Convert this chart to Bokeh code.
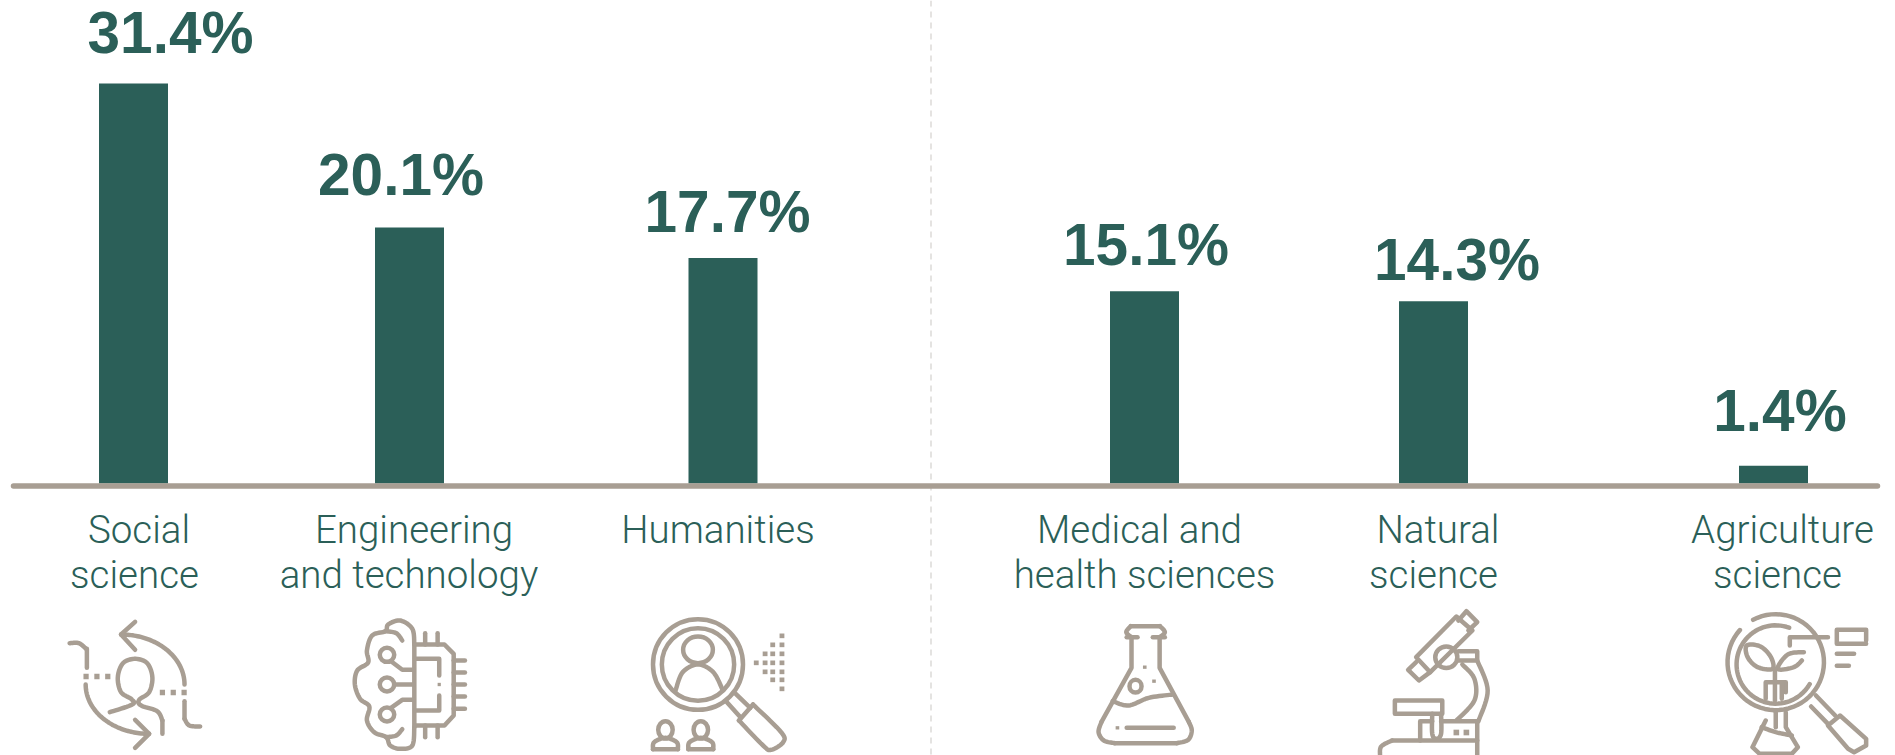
from math import cos, sin, radians
from bokeh.plotting import figure
from bokeh.models import Range1d
from bokeh.core.properties import value
from bokeh.embed import file_html
from bokeh.resources import INLINE

# ---- data ----
categories = ["Social science", "Engineering and technology", "Humanities",
              "Medical and health sciences", "Natural science", "Agriculture science"]
shares = [31.4, 20.1, 17.7, 15.1, 14.3, 1.4]
category_lines = [["Social", "science"], ["Engineering", "and technology"], ["Humanities"],
                  ["Medical and", "health sciences"], ["Natural", "science"], ["Agriculture", "science"]]

# ---- layout (page pixels) ----
bar_centers = [133, 409, 722.5, 1144, 1433, 1773]
value_label_x = [170, 400.5, 727, 1145.5, 1456.5, 1779.5]
value_label_y = [53, 195.5, 232.5, 265.5, 280.5, 431.5]
cat_label_x = [[138.5, 134], [413.5, 408.5], [717.5], [1139, 1144], [1437.5, 1433], [1782, 1777]]
cat_line_y = [542.5, 587.5]
GREEN = "#2B5F58"
TAUPE = "#A89E93"
W, H = 1895, 755
PX = 12.74
BASE = 483
VAL_SIZE = 58.5
CAT_SIZE = 38.5
BASELINE_SHIFT = 0.36

p = figure(width=W, height=H, output_backend="svg", toolbar_location=None,
           x_range=Range1d(0, W),
           y_range=Range1d((BASE - H) / PX, BASE / PX),
           min_border=0, outline_line_color=None, background_fill_color="white")
p.extra_y_ranges = {"page": Range1d(H, 0)}
p.xaxis.visible = False
p.yaxis.visible = False
p.xgrid.visible = False
p.ygrid.visible = False
PG = dict(y_range_name="page")

# divider
p.segment(x0=[930.5], y0=[0], x1=[930.5], y1=[H], line_color="#DCDAD7", line_width=1.5,
          line_dash="6 5", **PG)

# bars
p.vbar(x=bar_centers, top=shares, bottom=0, width=69, fill_color=GREEN, line_color=None)

# axis line
p.segment(x0=[13], y0=[485.5], x1=[1877], y1=[485.5], line_color=TAUPE, line_width=5.5,
          line_cap="round", **PG)

# value labels
p.text(x=value_label_x, y=[y - BASELINE_SHIFT * VAL_SIZE for y in value_label_y],
       text=[f"{v}%" for v in shares],
       text_font=value("Liberation Sans"), text_font_style="bold", text_font_size=f"{VAL_SIZE}px",
       text_color=GREEN, text_align="center", text_baseline="alphabetic", **PG)

# category labels
tx, ty, tt = [], [], []
for lines, xs in zip(category_lines, cat_label_x):
    for i, (s, x) in enumerate(zip(lines, xs)):
        tx.append(x); ty.append(cat_line_y[i] - BASELINE_SHIFT * CAT_SIZE); tt.append(s)
p.text(x=tx, y=ty, text=tt, text_font=value("Roboto Light"), text_font_size=f"{CAT_SIZE}px",
       text_color=GREEN, text_align="center", text_baseline="alphabetic", **PG)


# ---- icon drawing helpers: coordinates from 630-wide crops ----
class Icon:
    def __init__(self, x0):
        self.x0 = x0
    def pt(self, x, y):
        return self.x0 + x / 2.489, 460 + y / 3

ml_x, ml_y, sq = [], [], []
el = []

def add_poly(icon, pts):
    q = [icon.pt(*a) for a in pts]
    ml_x.append([a[0] for a in q]); ml_y.append([a[1] for a in q])

def spline(pts, closed=False, n=10):
    P = list(pts)
    if closed:
        P = [P[-1]] + P + [P[0], P[1]]
    else:
        P = [P[0]] + P + [P[-1]]
    out = []
    for i in range(1, len(P) - 2):
        p0, p1, p2, p3 = P[i - 1], P[i], P[i + 1], P[i + 2]
        for k in range(n):
            t = k / n
            out.append(tuple(0.5 * (2 * p1[j] + (p2[j] - p0[j]) * t +
                                    (2 * p0[j] - 5 * p1[j] + 4 * p2[j] - p3[j]) * t * t +
                                    (3 * p1[j] - p0[j] - 3 * p2[j] + p3[j]) * t ** 3) for j in (0, 1)))
    out.append(P[-2])
    return out

def L(ic, *pts): add_poly(ic, pts)
def S(ic, *pts, closed=False): add_poly(ic, spline(pts, closed))
def E(ic, cx, cy, w, h):
    x, y = ic.pt(cx, cy)
    el.append((x, y, w / 2.489, h / 3))
def D(ic, cx, cy, w=12, h=14):
    x, y = ic.pt(cx, cy)
    sq.append((x, y, w / 2.489, h / 3))
def A(ic, cx, cy, w, h, a0, a1):
    n = 60
    add_poly(ic, [(cx + w / 2 * cos(radians(a0 + (a1 - a0) * i / n)),
                   cy - h / 2 * sin(radians(a0 + (a1 - a0) * i / n))) for i in range(n + 1)])

# social science
a = Icon(0)
A(a, 300, 672, 316, 300, 0, 90)
L(a, (335, 484), (300, 522), (335, 568))
S(a, (172, 548), (195, 548), (213, 565))
L(a, (215, 565), (215, 622))
for x in (213, 240, 267): D(a, x, 648, 13, 16)
for x in (403, 430, 457): D(a, x, 696, 13, 16)
S(a, (272, 755), (328, 732), (326, 716), (300, 695), (292, 650), (305, 608), (335, 595),
  (365, 608), (378, 650), (370, 695), (345, 718), (350, 735), (390, 752), (403, 780))
L(a, (403, 780), (403, 820))
A(a, 370, 672, 316, 296, 180, 270)
L(a, (335, 778), (370, 820), (335, 862))
L(a, (458, 722), (458, 775))
S(a, (458, 775), (470, 795), (497, 798))

# engineering and technology
b = Icon(0)
S(b, (1030, 552), (1025, 505), (995, 480), (965, 492), (958, 512), (925, 525), (912, 570), (915, 606),
  (888, 630), (882, 672), (895, 715), (918, 738), (912, 780), (930, 815), (960, 830), (970, 855),
  (995, 865), (1025, 855), (1030, 800))
L(b, (1030, 552), (1030, 800))
S(b, (958, 512), (985, 518), (1000, 540))
S(b, (960, 830), (985, 825), (1000, 806))
for y in (583, 672, 762): E(b, 962, y, 36, 42)
L(b, (972, 602), (1000, 628), (1028, 628))
L(b, (980, 672), (1028, 672))
L(b, (972, 742), (1000, 718), (1028, 718))
L(b, (1032, 552), (1105, 552), (1128, 580), (1128, 765), (1105, 795), (1032, 795))
L(b, (1032, 595), (1092, 595), (1092, 645))
D(b, 1092, 672, 8, 10)
L(b, (1092, 705), (1092, 750), (1032, 750))
for y in (600, 636, 672, 708, 745): L(b, (1128, y), (1156, y))
for x in (1057, 1088):
    L(b, (x, 518), (x, 552))
    L(b, (x, 795), (x, 830))

# humanities
c = Icon(630)
E(c, 168, 612, 224, 272)
E(c, 168, 612, 180, 218)
E(c, 168, 568, 74, 80)
S(c, (112, 690), (130, 635), (168, 612), (206, 635), (230, 690))
L(c, (240, 725), (272, 768))
L(c, (262, 700), (298, 742))
S(c, (305, 732), (375, 815), (380, 845), (350, 868), (330, 855), (270, 780))
L(c, (270, 780), (305, 732))
for x, ys in zip((313, 335, 354, 377),
                 ((607,), (580, 607, 634), (553, 580, 607, 634, 658),
                  (526, 553, 580, 607, 634, 658, 685))):
    for y in ys: D(c, x, y, 12, 14)
for x in (87, 175):
    E(c, x, 808, 36, 52)
    S(c, (x - 31, 866), (x - 28, 845), (x, 832), (x + 28, 845), (x + 31, 866))
    L(c, (x - 31, 866), (x + 31, 866))

# medical and health sciences
d = Icon(630)
S(d, (1247, 530), (1234, 515), (1245, 497))
L(d, (1245, 497), (1318, 497))
S(d, (1318, 497), (1330, 515), (1317, 530))
L(d, (1235, 530), (1262, 530)); L(d, (1300, 530), (1330, 530))
L(d, (1247, 530), (1247, 622), (1172, 785))
S(d, (1172, 785), (1165, 815), (1178, 840), (1205, 848))
L(d, (1205, 848), (1360, 848))
S(d, (1360, 848), (1388, 838), (1397, 810), (1390, 785))
L(d, (1390, 785), (1317, 622), (1317, 530))
S(d, (1200, 722), (1240, 735), (1290, 712), (1350, 702))
E(d, 1257, 677, 30, 38)
for x, y in ((1280, 620), (1303, 662), (1212, 802)): D(d, x, y, 9, 10)
L(d, (1235, 802), (1352, 802))

# natural science
e = Icon(1265)
L(e, (375, 590), (475, 468), (515, 510), (410, 635), (375, 590))
L(e, (480, 480), (500, 452), (527, 485), (505, 510))
L(e, (375, 605), (355, 628), (382, 660), (410, 635))
E(e, 450, 590, 55, 65)
L(e, (480, 572), (527, 572), (527, 600), (480, 600))
S(e, (490, 612), (520, 655), (520, 720), (475, 780))
S(e, (527, 600), (553, 690), (530, 782))
L(e, (322, 720), (440, 720), (440, 760), (322, 760), (322, 720))
L(e, (415, 782), (385, 782), (385, 840))
S(e, (415, 760), (415, 820), (425, 835), (437, 820), (437, 760))
L(e, (437, 782), (527, 782), (527, 885))
S(e, (285, 885), (288, 858), (315, 840))
L(e, (315, 840), (527, 840))
D(e, 475, 816, 14, 17); D(e, 500, 816, 14, 17)

# agriculture science
f = Icon(1265)
A(f, 1270, 605, 240, 288, 118, -222)
A(f, 1270, 612, 195, 235, 70, 330)
L(f, (1305, 555), (1305, 530), (1400, 530))
S(f, (1198, 555), (1232, 558), (1258, 590), (1262, 625), (1225, 620), (1200, 590), closed=True)
S(f, (1340, 575), (1300, 582), (1275, 625), (1315, 620), (1335, 600))
L(f, (1268, 720), (1268, 625))
L(f, (1245, 715), (1245, 665), (1295, 665), (1295, 695))
L(f, (1285, 665), (1285, 715))
L(f, (1495, 540), (1495, 508), (1422, 508), (1422, 550), (1495, 550))
L(f, (1422, 580), (1465, 580))
L(f, (1422, 616), (1452, 616))
L(f, (1370, 705), (1418, 765))
L(f, (1358, 738), (1400, 790))
L(f, (1400, 795), (1430, 765), (1495, 835), (1495, 855), (1465, 875), (1450, 865), (1400, 795))
L(f, (1270, 755), (1270, 800))
L(f, (1295, 755), (1295, 800), (1325, 860), (1310, 880), (1230, 880), (1212, 860), (1245, 780))
S(f, (1235, 800), (1270, 815), (1310, 825))

p.multi_line(xs=ml_x, ys=ml_y, line_color=TAUPE, line_width=4.5, line_join="round", line_cap="round", **PG)
p.ellipse(x=[q[0] for q in el], y=[q[1] for q in el], width=[q[2] for q in el],
          height=[q[3] for q in el], fill_color=None, line_color=TAUPE, line_width=4.5, **PG)
p.rect(x=[q[0] for q in sq], y=[q[1] for q in sq], width=[q[2] for q in sq],
       height=[q[3] for q in sq], fill_color=TAUPE, line_color=None, **PG)

open("out.html", "w").write(file_html(p, INLINE))
